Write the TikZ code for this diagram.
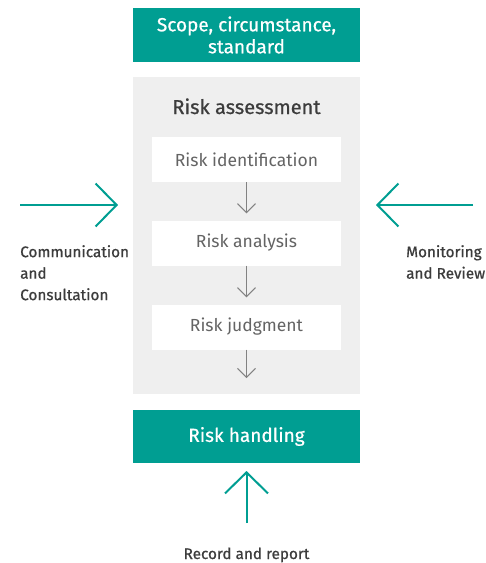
\documentclass[tikz,border=0pt]{standalone}
\usepackage{fontspec}
\setmainfont{Fira Sans}
\newfontfamily\medfont{Fira Sans}[FakeBold=0.7]
\usetikzlibrary{arrows.meta}
\definecolor{brandteal}{RGB}{0,158,146}
\definecolor{panelgray}{RGB}{239,239,239}
\definecolor{labelgray}{RGB}{60,60,60}
\definecolor{stepgray}{RGB}{100,100,100}
\definecolor{flowgray}{RGB}{130,130,130}
\begin{document}
\begin{tikzpicture}[x=1pt,y=-1pt,
  tealbox/.style={fill=brandteal, minimum width=227pt, inner sep=0pt,
    text=white, font=\medfont\fontsize{19}{22}\selectfont, align=center},
  panel/.style={fill=panelgray, minimum width=227pt, minimum height=317pt, inner sep=0pt},
  stepbox/.style={fill=white, minimum width=189pt, minimum height=45pt, inner sep=0pt,
    text=stepgray, font=\fontsize{17.5}{20}\selectfont},
  flow/.style={draw=flowgray, line width=1pt, -{Straight Barb[length=9pt, width=18pt]}},
  bigarrow/.style={draw=brandteal, line width=2pt, -{Straight Barb[length=21pt, width=43pt]}},
  sidelabel/.style={text=labelgray, font=\medfont\fontsize{15.3}{21.5}\selectfont, align=left, inner sep=0pt}
]
\useasboundingbox (0,0) rectangle (486,563);
\fill[white] (0,0) rectangle (486,563);

% main column
\node[tealbox, minimum height=54pt] (scope) at (246.5,35) {Scope, circumstance,\\standard};
\node[panel] (assess) at (246.5,235.5) {};
\node[text=labelgray, font=\medfont\fontsize{20}{22}\selectfont, anchor=base] (title) at (246.5,114) {Risk assessment};
\node[stepbox] (ident) at (246.5,159.5) {Risk identification};
\node[stepbox] (analysis) at (246.5,243) {Risk analysis};
\node[stepbox] (judge) at (246.5,327) {Risk judgment};
\node[tealbox, minimum height=53pt] (handle) at (246.5,436.5) {Risk handling};

% flow inside the assessment panel
\coordinate (judgeend) at (246.5,378);
\draw[flow, shorten >=7pt] (ident) -- (analysis);
\draw[flow, shorten >=7pt] (analysis) -- (judge);
\draw[flow] (judge) -- (judgeend);

% side and bottom inputs
\coordinate (lstart) at (20,205);
\coordinate (ltip) at (118,205);
\coordinate (rstart) at (473,205);
\coordinate (rtip) at (376,205);
\coordinate (bstart) at (246.5,523);
\coordinate (btip) at (246.5,471);
\draw[bigarrow] (lstart) -- (ltip);
\draw[bigarrow] (rstart) -- (rtip);
\draw[bigarrow] (bstart) -- (btip);

\node[sidelabel, anchor=north west] (comm) at (20,245) {Communication\\and\\Consultation};
\node[sidelabel, anchor=north west] (monitor) at (406,245) {Monitoring\\and Review};
\node[sidelabel, anchor=base] (record) at (246.5,559) {Record and report};
\end{tikzpicture}
\end{document}
